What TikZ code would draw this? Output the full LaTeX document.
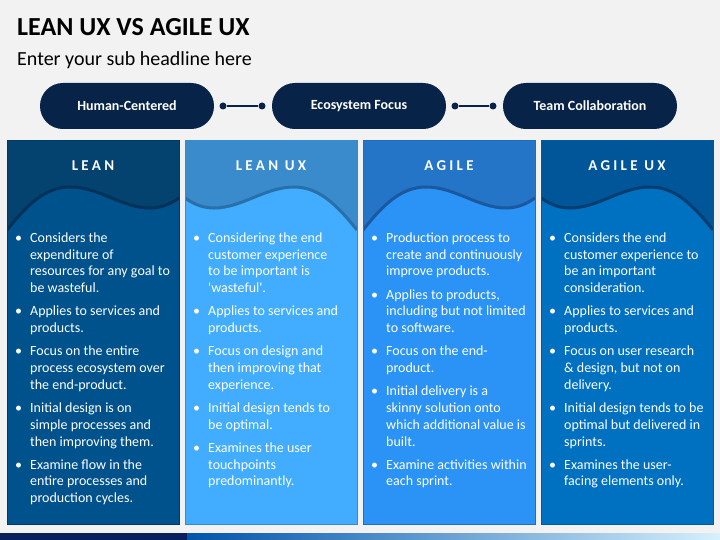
\documentclass[tikz,border=0pt]{standalone}
\usepackage{fontspec}
\setmainfont{Carlito}
\newfontfamily\hdrfont[LetterSpace=22]{Carlito Bold}
\definecolor{bg}{RGB}{242,242,242}
\definecolor{navy}{RGB}{8,35,72}
\definecolor{barnavy}{RGB}{10,32,92}
\definecolor{ctopA}{RGB}{4,66,112}
\definecolor{cbotA}{RGB}{0,82,140}
\definecolor{cwavA}{RGB}{0,50,90}
\definecolor{clinA}{RGB}{0,58,100}
\definecolor{ctopB}{RGB}{58,139,204}
\definecolor{cbotB}{RGB}{66,173,255}
\definecolor{cwavB}{RGB}{40,112,170}
\definecolor{clinB}{RGB}{50,140,210}
\definecolor{ctopC}{RGB}{36,116,200}
\definecolor{cbotC}{RGB}{42,147,245}
\definecolor{cwavC}{RGB}{26,88,160}
\definecolor{clinC}{RGB}{30,110,200}
\definecolor{ctopD}{RGB}{0,86,152}
\definecolor{cbotD}{RGB}{0,112,192}
\definecolor{cwavD}{RGB}{0,62,112}
\definecolor{clinD}{RGB}{0,90,160}
\definecolor{gradA}{RGB}{0,84,170}
\definecolor{gradB}{RGB}{0,165,230}
\definecolor{gradC}{RGB}{215,240,252}
\newcommand{\bul}[1]{\par\hangindent=15pt\hangafter=1\noindent\hbox to 15pt{\textbullet\hfil}#1\par}
\newcommand{\blist}[1]{\begin{minipage}[t]{160pt}\raggedright\fontsize{14}{16.7}\selectfont\parskip=6.6pt\relax #1\end{minipage}}
\newcommand{\colbox}[5]{%
\begin{scope}[shift={(#1,140)}, xscale=#2]
\clip (0,0) rectangle (172,384);
\fill[#3] (0,0) rectangle (172,384);
\fill[#4] (0,90) .. controls (20,65) and (38,47) .. (63,47) .. controls (92,47) and (115,68) .. (143,68) .. controls (157,68) and (166,62) .. (172,58) -- (172,384) -- (0,384) -- cycle;
\draw[#5, line width=3pt] (0,90) .. controls (20,65) and (38,47) .. (63,47) .. controls (92,47) and (115,68) .. (143,68) .. controls (157,68) and (166,62) .. (172,58);
\end{scope}}
\tikzset{
  pill/.style={fill=navy, text=white, minimum width=174pt, minimum height=46pt, rounded corners=22.9pt, inner sep=0pt, font=\bfseries\fontsize{14}{16}\selectfont},
  dot/.style={circle, fill=navy, inner sep=0pt, minimum size=7pt},
  conn/.style={navy, line width=2pt},
  hdr/.style={text=white, anchor=base, inner sep=0pt, font=\hdrfont\fontsize{15}{17}\selectfont},
  blt/.style={text=white, anchor=base west, inner sep=0pt},
}
\begin{document}
\begin{tikzpicture}[x=1pt,y=-1pt]
\fill[bg] (0,0) rectangle (720,540);
\useasboundingbox (0,0) rectangle (720,540);
% title
\node[anchor=base west, inner sep=0pt, font=\bfseries\fontsize{26}{30}\selectfont] (title) at (17,36) {LEAN UX VS AGILE UX};
\node[anchor=base west, inner sep=0pt, font=\fontsize{20}{24}\selectfont] (sub) at (17,66) {Enter your sub headline here};
% pills
\node[pill] (p1) at (127,106) {Human-Centered};
\node[pill] (p2) at (359,106) {Ecosystem Focus};
\node[pill] (p3) at (590,106) {Team Collaboration};
\node[dot] (d1) at (223,106) {};
\node[dot] (d2) at (262,106) {};
\node[dot] (d3) at (455,106) {};
\node[dot] (d4) at (493,106) {};
\draw[conn] (d1) -- (d2);
\draw[conn] (d3) -- (d4);
% columns
\colbox{7}{1}{ctopA}{cbotA}{cwavA}
\colbox{357}{-1}{ctopB}{cbotB}{cwavB}
\colbox{363}{1}{ctopC}{cbotC}{cwavC}
\colbox{713}{-1}{ctopD}{cbotD}{cwavD}
\draw[clinA, line width=0.8pt] (7,140) rectangle (179,524);
\draw[clinB, line width=0.8pt] (185,140) rectangle (357,524);
\draw[clinC, line width=0.8pt] (363,140) rectangle (535,524);
\draw[clinD, line width=0.8pt] (541,140) rectangle (713,524);
% headers
\node[hdr] (h1) at (93,170.5) {LEAN};
\node[hdr] (h2) at (271,170.5) {LEAN UX};
\node[hdr] (h3) at (449,170.5) {AGILE};
\node[hdr] (h4) at (627,170.5) {AGILE UX};
% bullet lists
\node[blt] (l1) at (15,242.5) {\blist{%
\bul{Considers the\newline expenditure of\newline resources for any goal to\newline be wasteful.}
\bul{Applies to services and\newline products.}
\bul{Focus on the entire\newline process ecosystem over\newline the end-product.}
\bul{Initial design is on\newline simple processes and\newline then improving them.}
\bul{Examine flow in the\newline entire processes and\newline production cycles.}}};
\node[blt] (l2) at (193,242.5) {\blist{%
\bul{Considering the end\newline customer experience\newline to be important is\newline \textquotesingle wasteful\textquotesingle.}
\bul{Applies to services and\newline products.}
\bul{Focus on design and\newline then improving that\newline experience.}
\bul{Initial design tends to\newline be optimal.}
\bul{Examines the user\newline touchpoints\newline predominantly.}}};
\node[blt] (l3) at (371,242.5) {\blist{%
\bul{Production process to\newline create and continuously\newline improve products.}
\bul{Applies to products,\newline including but not limited\newline to software.}
\bul{Focus on the end-\newline product.}
\bul{Initial delivery is a\newline skinny solution onto\newline which additional value is\newline built.}
\bul{Examine activities within\newline each sprint.}}};
\node[blt] (l4) at (549,242.5) {\blist{%
\bul{Considers the end\newline customer experience to\newline be an important\newline consideration.}
\bul{Applies to services and\newline products.}
\bul{Focus on user research\newline \& design, but not on\newline delivery.}
\bul{Initial design tends to be\newline optimal but delivered in\newline sprints.}
\bul{Examines the user-\newline facing elements only.}}};
% bottom bar
\fill[barnavy] (0,533) rectangle (187,540);
\shade[left color=gradA, middle color=gradB, right color=gradC] (187,533) rectangle (720,540);
\end{tikzpicture}
\end{document}
